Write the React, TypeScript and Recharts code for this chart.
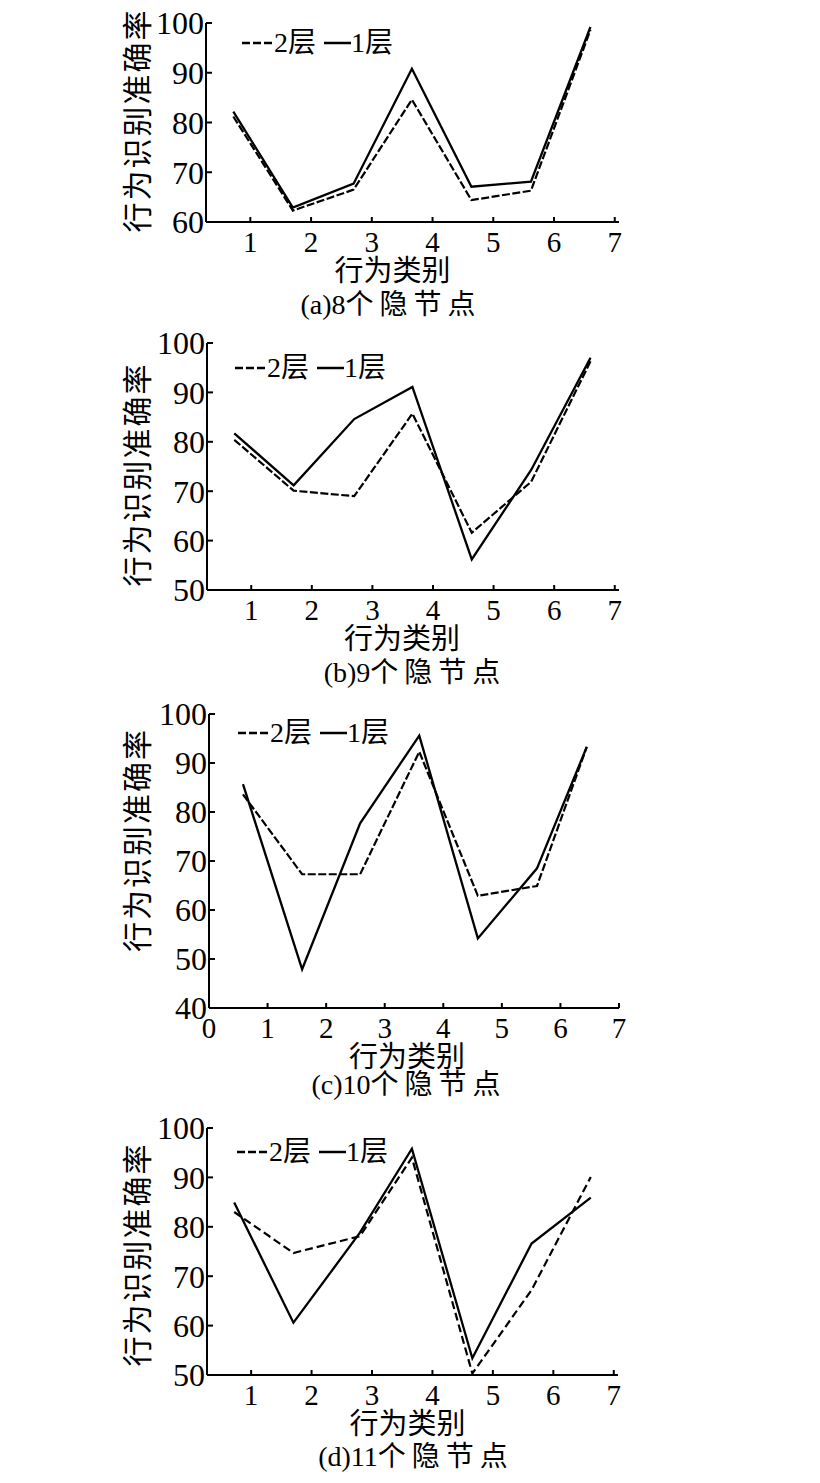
import React from "react";
import { Legend, Line, LineChart, XAxis, YAxis } from "recharts";

const FONT = "'Liberation Serif', 'Noto Sans CJK SC', serif";

// x positions of the 7 behaviour classes (as drawn in the source figure)
const xsABD = [0.72, 1.7, 2.7, 3.66, 4.64, 5.62, 6.6];
const xsC = [0.58, 1.59, 2.58, 3.59, 4.59, 5.6, 6.45];
const xsD = [0.72, 1.7, 2.8, 3.66, 4.66, 5.64, 6.62];

// 2层 (dashed) and 1层 (solid) accuracy per panel
const twoLayerA = [81.2, 62.3, 66.5, 84.6, 64.4, 66.3, 98.6];
const oneLayerA = [82.2, 62.9, 67.7, 90.8, 67.1, 68.1, 99.2];
const twoLayerB = [80.4, 70.1, 69.0, 85.7, 61.6, 71.9, 96.3];
const oneLayerB = [81.7, 71.2, 84.6, 91.1, 56.2, 74.3, 97.0];
const twoLayerC = [83.6, 67.3, 67.3, 92.3, 62.9, 64.9, 93.3];
const oneLayerC = [85.7, 47.9, 77.7, 95.6, 54.2, 68.5, 93.3];
const twoLayerD = [83.0, 74.7, 78.1, 94.0, 50.3, 67.2, 90.1];
const oneLayerD = [84.9, 60.6, 78.8, 95.8, 53.4, 76.6, 85.9];

const xTicks = [1, 2, 3, 4, 5, 6, 7];
const xTicksC = [0, 1, 2, 3, 4, 5, 6, 7];
const yTicks60 = [60, 70, 80, 90, 100];
const yTicks50 = [50, 60, 70, 80, 90, 100];
const yTicks40 = [40, 50, 60, 70, 80, 90, 100];

const captions = ["(a)8", "(b)9", "(c)10", "(d)11"];

const buildRows = (xs: number[], two: number[], one: number[]) =>
  xs.map((x, i) => ({ x, l2: two[i], l1: one[i] }));

const panels = [
  {
    rows: buildRows(xsABD, twoLayerA, oneLayerA),
    plotTop: 23, plotBottom: 222, left: 206, right: 619,
    xDomain: [0.27, 7.07], xTicks, yDomain: [60, 100], yTicks: yTicks60,
    dash: "8 2.5", legend: { left: 242, cy: 43 }, labelDy: -2, titleDx: -20,
    caption: { cx: 388, cy: 305 },
  },
  {
    rows: buildRows(xsABD, twoLayerB, oneLayerB),
    plotTop: 343, plotBottom: 590, left: 207, right: 619,
    xDomain: [0.27, 7.07], xTicks, yDomain: [50, 100], yTicks: yTicks50,
    dash: "8 2.5", legend: { left: 235, cy: 368 }, labelDy: 8, titleDx: -11,
    caption: { cx: 412, cy: 673 },
  },
  {
    rows: buildRows(xsC, twoLayerC, oneLayerC),
    plotTop: 714, plotBottom: 1008, left: 209, right: 619,
    xDomain: [0, 7], xTicks: xTicksC, yDomain: [40, 100], yTicks: yTicks40,
    dash: "8 2.5", legend: { left: 238, cy: 733 }, labelDy: -21, titleDx: -7,
    caption: { cx: 406, cy: 1085 },
  },
  {
    rows: buildRows(xsD, twoLayerD, oneLayerD),
    plotTop: 1128, plotBottom: 1375, left: 207, right: 618,
    xDomain: [0.27, 7.07], xTicks, yDomain: [50, 100], yTicks: yTicks50,
    dash: "8 4", legend: { left: 237, cy: 1152 }, labelDy: 3, titleDx: -5,
    caption: { cx: 413, cy: 1457 },
  },
];

const MARGIN_TOP = 20;
const X_AXIS_H = 80;

function LegendBox({ payload }: any) {
  // 2层 (dashed) first, then 1层 (solid), as in the figure
  const items = [...(payload || [])].sort((a: any, b: any) =>
    a.dataKey === "l2" ? -1 : b.dataKey === "l2" ? 1 : 0
  );
  return (
    <div style={{ display: "flex", alignItems: "center", fontFamily: FONT, fontSize: 28, lineHeight: "28px", color: "#000" }}>
      {items.map((p: any, i: number) => (
        <span key={i} style={{ display: "flex", alignItems: "center", marginRight: 8 }}>
          <svg width={i === 0 ? 32 : 27} height={4} style={{ display: "block" }}>
            <line x1={0} y1={2} x2={i === 0 ? 32 : 27} y2={2} stroke="#000" strokeWidth={2.5}
              strokeDasharray={p.dataKey === "l2" ? "8 3" : undefined} />
          </svg>
          <span>{p.value}</span>
        </span>
      ))}
    </div>
  );
}

function Panel({ cfg, index }: { cfg: any; index: number }) {
  const plotH = cfg.plotBottom - cfg.plotTop;
  const top = cfg.plotTop - MARGIN_TOP;
  const height = MARGIN_TOP + plotH + X_AXIS_H;
  const axisStyle = { stroke: "#000", strokeWidth: 2 };
  const yTickStyle = { fontSize: 32, fill: "#000", fontFamily: FONT };
  const xTickStyle = { fontSize: 29, fill: "#000", fontFamily: FONT };

  return (
    <>
      <div style={{ position: "absolute", top, left: 0 }}>
        <LineChart
          width={820}
          height={height}
          data={cfg.rows}
          margin={{ top: MARGIN_TOP, right: 820 - cfg.right, left: 0, bottom: 0 }}
        >
          <XAxis
            dataKey="x"
            type="number"
            domain={cfg.xDomain}
            ticks={cfg.xTicks}
            interval={0}
            height={X_AXIS_H}
            axisLine={axisStyle}
            tickLine={axisStyle}
            tickSize={-5}
            tickMargin={14}
            tick={xTickStyle}
            allowDataOverflow
            label={{
              content: ({ viewBox }: any) => (
                <text
                  x={viewBox.x + viewBox.width / 2 + cfg.titleDx}
                  y={viewBox.y + 49}
                  textAnchor="middle"
                  dominantBaseline="central"
                  fontFamily={FONT}
                  fontSize={29}
                  fill="#000"
                >
                  行为类别
                </text>
              ),
            }}
          />
          <YAxis
            type="number"
            domain={cfg.yDomain}
            ticks={cfg.yTicks}
            interval={0}
            width={cfg.left}
            axisLine={axisStyle}
            tickLine={axisStyle}
            tickSize={-6}
            tickMargin={8}
            tick={yTickStyle}
            label={{
              content: ({ viewBox }: any) => {
                const cx = viewBox.x + 137;
                const cy = viewBox.y + viewBox.height / 2 + cfg.labelDy;
                return (
                  <text
                    x={cx}
                    y={cy}
                    transform={`rotate(-90 ${cx} ${cy})`}
                    textAnchor="middle"
                    dominantBaseline="central"
                    fontFamily={FONT}
                    fontSize={30}
                    letterSpacing={2}
                    fill="#000"
                  >
                    行为识别准确率
                  </text>
                );
              },
            }}
          />
          <Legend
            layout="vertical"
            align="center"
            verticalAlign="middle"
            wrapperStyle={{ top: cfg.legend.cy - top - 14, left: cfg.legend.left, width: "auto" }}
            content={(props: any) => <LegendBox {...props} />}
          />
          <Line
            dataKey="l2"
            name="2层"
            type="linear"
            stroke="#000"
            strokeWidth={2.2}
            strokeDasharray={cfg.dash}
            dot={false}
            isAnimationActive={false}
          />
          <Line
            dataKey="l1"
            name="1层"
            type="linear"
            stroke="#000"
            strokeWidth={2.3}
            dot={false}
            isAnimationActive={false}
          />
        </LineChart>
      </div>
      <div
        style={{
          position: "absolute",
          left: cfg.caption.cx - 150,
          top: cfg.caption.cy - 16,
          width: 300,
          textAlign: "center",
          fontFamily: FONT,
          fontSize: 28,
          lineHeight: "32px",
          color: "#000",
          whiteSpace: "nowrap",
        }}
      >
        {captions[index]}
        <span style={{ letterSpacing: 6 }}>个隐节</span>点
      </div>
    </>
  );
}

export default function App() {
  return (
    <div style={{ position: "absolute", left: 0, top: 0, width: 820, height: 1483, background: "#fff", overflow: "hidden" }}>
      {panels.map((cfg, i) => (
        <Panel key={i} cfg={cfg} index={i} />
      ))}
    </div>
  );
}
